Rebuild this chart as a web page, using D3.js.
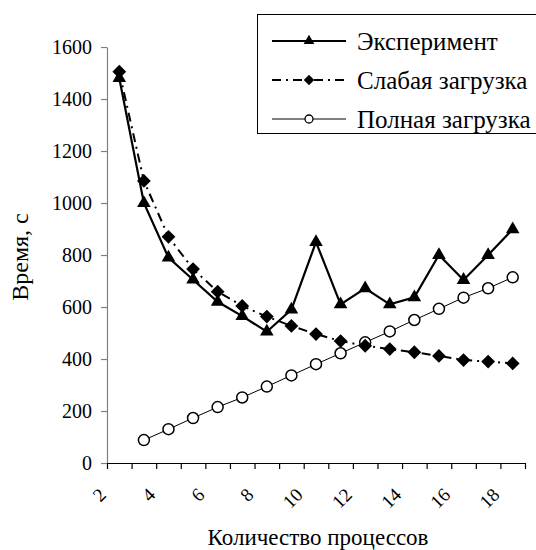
<!DOCTYPE html>
<html>
<head>
<meta charset="utf-8">
<script src="https://cdn.jsdelivr.net/npm/d3@7"></script>
<style>
  body { margin: 0; background: #fff; }
</style>
</head>
<body>
<svg id="chart" width="536" height="550" font-family="Liberation Serif, Times New Roman, serif"></svg>
<script>
var categories = [2, 3, 4, 5, 6, 7, 8, 9, 10, 11, 12, 13, 14, 15, 16, 17, 18];
var xLabels = [2, 4, 6, 8, 10, 12, 14, 16, 18];
var yTicks = [0, 200, 400, 600, 800, 1000, 1200, 1400, 1600];

var experiment = [1480, 1000, 790, 705, 620, 565, 505, 590, 850, 610, 672, 610, 637, 800, 704, 800, 899];
var weakLoad = [1505, 1085, 870, 746, 659, 604, 563, 527, 496, 469, 451, 438, 426, 412, 396, 390, 383];
var fullLoad = [null, 88, 130, 173, 215, 252, 294, 337, 380, 422, 464, 506, 550, 593, 636, 672, 714];

var seriesNames = ["Эксперимент", "Слабая загрузка", "Полная загрузка"];

var FONT = "Liberation Serif, Times New Roman, serif";
var svg = d3.select("#chart");

var margin = {top: 47, left: 107, right: 11, bottom: 87};
var width = 536 - margin.left - margin.right,
    height = 550 - margin.top - margin.bottom;

// category axis: points sit between tick marks, like excel
var x = d3.scaleLinear()
    .domain([categories[0] - 0.5, categories[categories.length - 1] + 0.5])
    .range([0, width]);
var y = d3.scaleLinear().domain([0, 1600]).range([height, 0]);

var g = svg.append("g")
    .attr("transform", "translate(" + margin.left + "," + margin.top + ")");

// y axis
var yAxis = g.append("g")
    .call(d3.axisLeft(y).tickValues(yTicks).tickFormat(d3.format("d"))
        .tickSize(6).tickPadding(9).tickSizeOuter(0));
yAxis.attr("font-family", FONT);
yAxis.selectAll("path, line").attr("stroke", "#808080").attr("stroke-width", 1.2);
yAxis.selectAll("text").attr("font-size", "20px").attr("fill", "#000");

// x axis
var boundaries = d3.range(categories[0] - 0.5, categories[categories.length - 1] + 1, 1);
var xAxis = g.append("g")
    .attr("transform", "translate(0," + height + ")")
    .call(d3.axisBottom(x).tickValues(boundaries).tickFormat("").tickSize(6).tickSizeOuter(0));
xAxis.selectAll("path, line").attr("stroke", "#000").attr("stroke-width", 1.2);

g.selectAll(".xlabel")
    .data(xLabels)
    .enter().append("text")
    .attr("class", "xlabel")
    .attr("transform", function(d) {
        return "translate(" + (x(d) - 12) + "," + (height + 33) + ") rotate(-45)";
    })
    .attr("text-anchor", "end")
    .attr("font-size", "19px")
    .text(function(d) { return d; });

// axis titles
svg.append("text")
    .attr("x", 318)
    .attr("y", 545)
    .attr("text-anchor", "middle")
    .attr("font-size", "23px")
    .text("Количество процессов");

svg.append("text")
    .attr("transform", "translate(28,257) rotate(-90)")
    .attr("text-anchor", "middle")
    .attr("font-size", "24px")
    .text("Время, с");

var line = d3.line()
    .defined(function(d) { return d[1] != null; })
    .x(function(d) { return x(d[0]); })
    .y(function(d) { return y(d[1]); });

function pairs(vals) {
    return categories.map(function(c, i) { return [c, vals[i]]; });
}

var triangle = d3.symbol().type(d3.symbolTriangle).size(80);
var diamond = d3.symbol().type(d3.symbolSquare).size(95);
var triangleSmall = d3.symbol().type(d3.symbolTriangle).size(50);
var diamondSmall = d3.symbol().type(d3.symbolSquare).size(55);

// full load
g.append("path")
    .datum(pairs(fullLoad))
    .attr("fill", "none")
    .attr("stroke", "#000")
    .attr("stroke-width", 1)
    .attr("d", line);
g.selectAll(".full")
    .data(pairs(fullLoad).filter(function(d) { return d[1] != null; }))
    .enter().append("circle")
    .attr("class", "full")
    .attr("cx", function(d) { return x(d[0]); })
    .attr("cy", function(d) { return y(d[1]); })
    .attr("r", 5.5)
    .attr("fill", "#fff")
    .attr("stroke", "#000")
    .attr("stroke-width", 1.5);

// weak load
g.append("path")
    .datum(pairs(weakLoad))
    .attr("fill", "none")
    .attr("stroke", "#000")
    .attr("stroke-width", 2)
    .attr("stroke-dasharray", "9,5,2,5")
    .attr("d", line);
g.selectAll(".weak")
    .data(pairs(weakLoad))
    .enter().append("path")
    .attr("class", "weak")
    .attr("transform", function(d) { return "translate(" + x(d[0]) + "," + y(d[1]) + ") rotate(45)"; })
    .attr("d", diamond)
    .attr("fill", "#000");

// experiment
g.append("path")
    .datum(pairs(experiment))
    .attr("fill", "none")
    .attr("stroke", "#000")
    .attr("stroke-width", 2.2)
    .attr("d", line);
g.selectAll(".exp")
    .data(pairs(experiment))
    .enter().append("path")
    .attr("class", "exp")
    .attr("transform", function(d) { return "translate(" + x(d[0]) + "," + y(d[1]) + ")"; })
    .attr("d", triangle)
    .attr("fill", "#000");

// legend
var legend = svg.append("g").attr("transform", "translate(257,14)");
legend.append("rect")
    .attr("x", 0.5).attr("y", 0.5)
    .attr("width", 300).attr("height", 119)
    .attr("fill", "#fff")
    .attr("stroke", "#000")
    .attr("stroke-width", 1);

var rows = legend.selectAll(".row")
    .data(seriesNames)
    .enter().append("g")
    .attr("class", "row")
    .attr("transform", function(d, i) { return "translate(0," + (27 + i * 39) + ")"; });

rows.append("line")
    .attr("x1", 15).attr("x2", 89)
    .attr("stroke", "#000")
    .attr("stroke-width", function(d, i) { return i == 2 ? 1 : 2; })
    .attr("stroke-dasharray", function(d, i) { return i == 1 ? "9,5,2,5" : null; });

rows.each(function(d, i) {
    var r = d3.select(this);
    if (i == 0) {
        r.append("path").attr("transform", "translate(52,0)").attr("d", triangleSmall).attr("fill", "#000");
    } else if (i == 1) {
        r.append("path").attr("transform", "translate(52,0) rotate(45)").attr("d", diamondSmall).attr("fill", "#000");
    } else {
        r.append("circle").attr("cx", 52).attr("r", 4).attr("fill", "#fff").attr("stroke", "#000").attr("stroke-width", 1.3);
    }
});

rows.append("text")
    .attr("x", 100)
    .attr("dy", "0.35em")
    .attr("font-size", "25px")
    .text(function(d) { return d; });
</script>
</body>
</html>
